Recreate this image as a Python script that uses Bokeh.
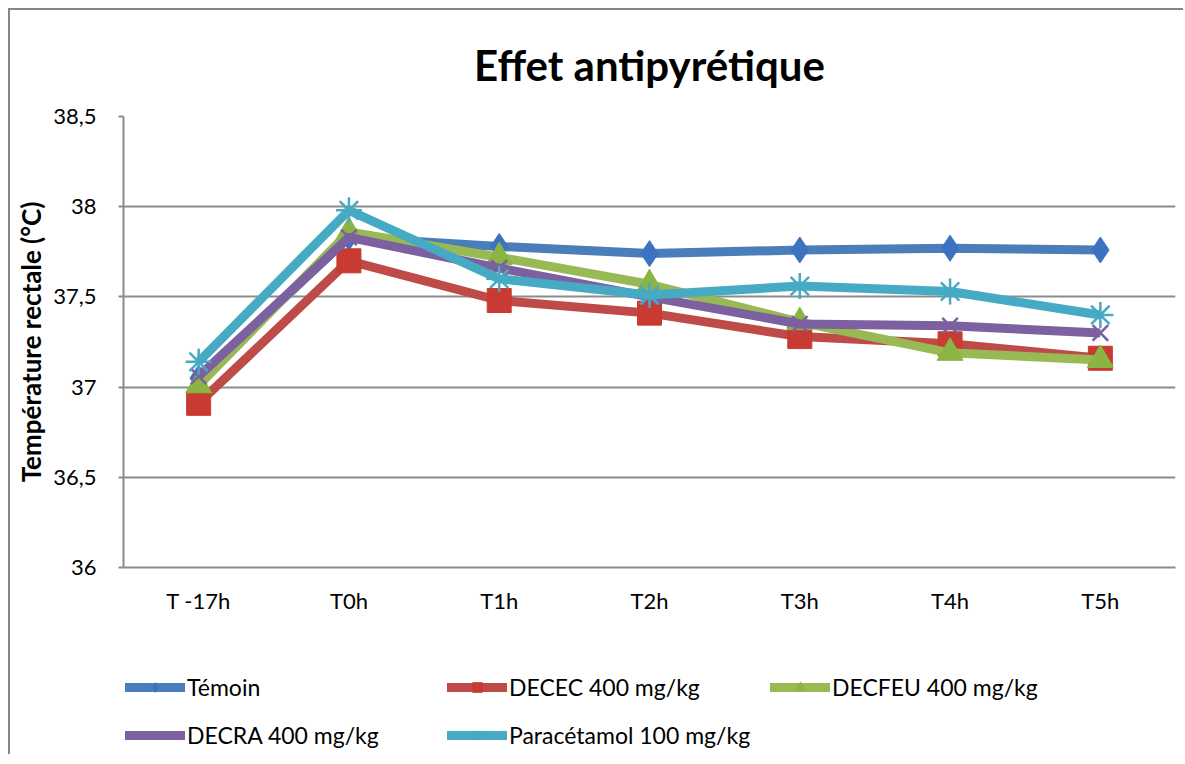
from bokeh.plotting import figure
from bokeh.models import ColumnDataSource, FixedTicker, Legend, LegendItem
from bokeh.layouts import column
from bokeh.embed import file_html
from bokeh.resources import INLINE

categories = ["T -17h", "T0h", "T1h", "T2h", "T3h", "T4h", "T5h"]
temoin = [37.05, 37.83, 37.78, 37.74, 37.76, 37.77, 37.76]
decec = [36.91, 37.70, 37.48, 37.41, 37.28, 37.24, 37.16]
decfeu = [37.01, 37.86, 37.72, 37.57, 37.36, 37.19, 37.15]
decra = [37.06, 37.83, 37.66, 37.50, 37.35, 37.34, 37.30]
paracetamol = [37.14, 37.98, 37.60, 37.51, 37.56, 37.53, 37.40]
series_names = ["Témoin", "DECEC 400 mg/kg", "DECFEU 400 mg/kg", "DECRA 400 mg/kg", "Paracétamol 100 mg/kg"]
y_ticks = [36, 36.5, 37, 37.5, 38, 38.5]
y_tick_labels = ["36", "36,5", "37", "37,5", "38", "38,5"]
title_text = "Effet antipyrétique"
y_label = "Température rectale (°C)"

FONT = "Lato"
GRID = "#8c8c8c"

p = figure(x_range=categories, y_range=(36, 38.5), width=1173, height=630,
           output_backend="svg", toolbar_location=None,
           min_border_left=113, min_border_right=8, min_border_top=106, min_border_bottom=73)
p.outline_line_color = None
p.x_range.range_padding = 0

p.title.text = title_text
p.title.align = "center"
p.title.text_font = FONT
p.title.text_font_size = "42px"
p.title.text_font_style = "bold"
p.title.text_color = "#000000"
p.title.standoff = 54

p.xgrid.grid_line_color = None
p.ygrid.grid_line_color = GRID
p.ygrid.grid_line_width = 2

p.yaxis.ticker = FixedTicker(ticks=y_ticks)
p.yaxis.major_label_overrides = {t: l for t, l in zip(y_ticks, y_tick_labels)}
p.yaxis.axis_line_color = GRID
p.yaxis.axis_line_width = 2
p.yaxis.major_tick_line_color = GRID
p.yaxis.major_tick_line_width = 2
p.yaxis.major_tick_out = 5
p.yaxis.major_tick_in = 0
p.yaxis.minor_tick_line_color = None
p.yaxis.major_label_standoff = 22
p.yaxis.major_label_text_font = FONT
p.yaxis.major_label_text_font_size = "22px"
p.yaxis.major_label_text_color = "#000000"
p.yaxis.axis_label = y_label
p.yaxis.axis_label_text_font = FONT
p.yaxis.axis_label_text_font_size = "26px"
p.yaxis.axis_label_text_font_style = "bold"
p.yaxis.axis_label_text_color = "#000000"
p.yaxis.axis_label_standoff = 3

p.xaxis.axis_line_color = GRID
p.xaxis.axis_line_width = 2
p.xaxis.major_tick_line_color = None
p.xaxis.minor_tick_line_color = None
p.xaxis.major_label_standoff = 13
p.xaxis.major_label_text_font = FONT
p.xaxis.major_label_text_font_size = "22px"
p.xaxis.major_label_text_color = "#000000"

colors = ["#4a7ebb", "#be4b48", "#98b954", "#7d60a0", "#46aac5"]
marker_fill = ["#3c72c0", "#c93a32", "#8ab543", "#7d60a0", "#46aac5"]
markers = ["diamond", "square", "triangle", "x", "asterisk"]
sizes = [26, 24, 26, 22, 26]
all_values = [temoin, decec, decfeu, decra, paracetamol]

# legend figure below the chart: same data, but its y range keeps the marks out of view
p2 = figure(width=1173, height=114, x_range=categories, y_range=(0, 1),
            output_backend="svg", toolbar_location=None,
            x_axis_location=None, y_axis_location=None,
            min_border_left=0, min_border_right=0, min_border_top=0, min_border_bottom=0)
p2.outline_line_color = None
p2.grid.visible = False

items = []
for name, vals, c, mf, m, s in zip(series_names, all_values, colors, marker_fill, markers, sizes):
    src = ColumnDataSource(dict(x=categories, y=vals))
    p.line("x", "y", source=src, line_color=c, line_width=9, line_join="round")
    if m in ("x", "asterisk"):
        p.scatter("x", "y", source=src, marker=m, size=s, line_color=mf, line_width=2.5)
    else:
        p.scatter("x", "y", source=src, marker=m, size=s, fill_color=mf, line_color=mf, line_width=1)
    l1 = p2.line("x", "y", source=src, line_color=c, line_width=9, line_cap="round")
    if m in ("x", "asterisk"):
        l2 = p2.scatter("x", "y", source=src, marker=m, size=16, line_color=mf, line_width=1.5)
    else:
        l2 = p2.scatter("x", "y", source=src, marker=m, size=16, fill_color=mf, line_color=mf)
    items.append(LegendItem(label=name, renderers=[l1, l2]))

legend_cols = [([items[0], items[3]], (2, 5)),
               ([items[1], items[4]], (324, 5)),
               ([items[2]], (647, 53))]
for its, loc in legend_cols:
    lg = Legend(items=its, location=loc, orientation="vertical",
                label_text_font=FONT, label_text_font_size="23px", label_text_color="#000000",
                glyph_width=60, glyph_height=24, label_height=24, label_standoff=2,
                spacing=20, padding=0, margin=0, border_line_color=None,
                background_fill_alpha=0)
    p2.add_layout(lg, "center")

layout = column(p, p2, spacing=0,
                styles={"margin-left": "8px", "margin-top": "8px",
                        "border-left": "2px solid #868686", "border-top": "2px solid #868686"})

open("out.html", "w").write(file_html(layout, INLINE))
